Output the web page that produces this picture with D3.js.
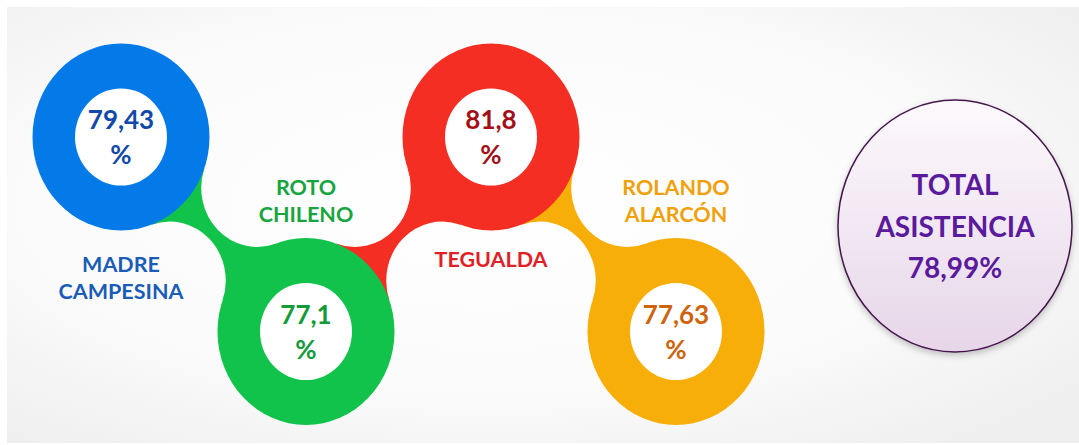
<!DOCTYPE html>
<html>
<head>
<meta charset="utf-8">
<script src="https://cdn.jsdelivr.net/npm/d3@7"></script>
<style>
  body { margin: 0; background: #fff; }
  svg { display: block; }
  text { font-family: Lato, "Open Sans", sans-serif; font-weight: 700; }
</style>
</head>
<body>
<div id="holder"></div>
<script>
  // Data
  const schools = ['MADRE CAMPESINA', 'ROTO CHILENO', 'TEGUALDA', 'ROLANDO ALARCÓN'];
  const labelLines = [['MADRE', 'CAMPESINA'], ['ROTO', 'CHILENO'], ['TEGUALDA'], ['ROLANDO', 'ALARCÓN']];
  const attendance = [79.43, 77.1, 81.8, 77.63];
  const rows = ['top', 'bottom', 'top', 'bottom'];
  const totalLines = ['TOTAL', 'ASISTENCIA'];
  const totalAttendance = 78.99;

  const ringColors = ['#0479E8', '#12C34B', '#F42E23', '#F7AE08'];
  const valueColors = ['#1249A8', '#139B3A', '#A30F18', '#CF630B'];
  const labelColors = ['#1A5CB8', '#17A53F', '#E11F27', '#F0A10A'];

  // Variables
  const w = 1079;
  const h = 445;
  const sy = 1.056; // rings are slightly taller than wide
  const rOuter = 88.5;
  const rInner = 46;
  const rCut = 56;

  const fmt = (v) => String(v).replace('.', ',');

  const xScale = d3.scalePoint().domain(schools).range([121, 676]);
  const yScale = d3.scalePoint().domain(['top', 'bottom']).range([137, 331.5]);

  const nodes = schools.map((s, i) => ({
    name: s,
    x: xScale(s),
    y: yScale(rows[i]),
    gy: yScale(rows[i]) / sy,
    i: i,
  }));

  const svg = d3.select('#holder').append('svg').attr('width', w).attr('height', h);
  const defs = svg.append('defs');

  const bg = defs.append('radialGradient').attr('id', 'bg').attr('cx', '45%').attr('cy', '45%').attr('r', '70%');
  bg.append('stop').attr('offset', '0%').attr('stop-color', '#ffffff');
  bg.append('stop').attr('offset', '60%').attr('stop-color', '#fbfbfb');
  bg.append('stop').attr('offset', '100%').attr('stop-color', '#efefef');

  const tg = defs.append('linearGradient').attr('id', 'tot').attr('x1', 0).attr('y1', 0).attr('x2', 0).attr('y2', 1);
  tg.append('stop').attr('offset', '0%').attr('stop-color', '#fcf9fc');
  tg.append('stop').attr('offset', '100%').attr('stop-color', '#e7d6e9');

  const sh = defs.append('filter').attr('id', 'shadow').attr('x', '-20%').attr('y', '-20%').attr('width', '140%').attr('height', '140%');
  sh.append('feDropShadow').attr('dx', 0).attr('dy', 3).attr('stdDeviation', 3)
    .attr('flood-color', '#000').attr('flood-opacity', 0.22);

  svg.append('rect').attr('x', 7).attr('y', 7).attr('width', w - 7).attr('height', h - 9).attr('fill', 'url(#bg)');

  // Shapes, drawn in a vertically stretched group
  const g = svg.append('g').attr('transform', 'scale(1,' + sy + ')');

  function connector(a, b) {
    const ax = a.x, ay = a.gy, bx = b.x, by = b.gy;
    const dx = bx - ax, dy = by - ay, d = Math.hypot(dx, dy);
    const mx = (ax + bx) / 2, my = (ay + by) / 2;
    const hh = Math.sqrt((rOuter + rCut) ** 2 - (d / 2) ** 2);
    const ux = -dy / d, uy = dx / d;
    const cuts = [
      [mx + ux * hh, my + uy * hh],
      [mx - ux * hh, my - uy * hh],
    ];
    const k = rOuter / (rOuter + rCut);
    const tp = (px, py, c) => [px + (c[0] - px) * k, py + (c[1] - py) * k];
    const tA1 = tp(ax, ay, cuts[0]), tB1 = tp(bx, by, cuts[0]);
    const tB2 = tp(bx, by, cuts[1]), tA2 = tp(ax, ay, cuts[1]);

    const p = d3.path();
    const arcTo = (c, from, to) => {
      const t1 = Math.atan2(from[1] - c[1], from[0] - c[0]);
      const t2 = Math.atan2(to[1] - c[1], to[0] - c[0]);
      let dl = t2 - t1;
      while (dl > Math.PI) dl -= 2 * Math.PI;
      while (dl < -Math.PI) dl += 2 * Math.PI;
      p.arc(c[0], c[1], rCut, t1, t1 + dl, dl < 0);
    };
    p.moveTo(tA1[0], tA1[1]);
    arcTo(cuts[0], tA1, tB1);
    p.lineTo(tB2[0], tB2[1]);
    arcTo(cuts[1], tB2, tA2);
    p.closePath();
    return p.toString();
  }

  // Connectors take the colour of the next ring
  g.selectAll('path.link')
    .data(nodes.slice(1))
    .enter()
    .append('path')
    .attr('class', 'link')
    .attr('d', (d) => connector(nodes[d.i - 1], d))
    .attr('fill', (d) => ringColors[d.i]);

  g.selectAll('circle.outer')
    .data(nodes)
    .enter()
    .append('circle')
    .attr('class', 'outer')
    .attr('cx', (d) => d.x)
    .attr('cy', (d) => d.gy)
    .attr('r', rOuter)
    .attr('fill', (d) => ringColors[d.i]);

  g.selectAll('circle.inner')
    .data(nodes)
    .enter()
    .append('circle')
    .attr('class', 'inner')
    .attr('cx', (d) => d.x)
    .attr('cy', (d) => d.gy)
    .attr('r', rInner)
    .attr('fill', '#ffffff');

  // Values inside the rings
  const vals = svg.selectAll('g.val').data(nodes).enter().append('g').attr('class', 'val');
  vals.append('text')
    .attr('x', (d) => d.x)
    .attr('y', (d) => d.y - 8)
    .attr('text-anchor', 'middle')
    .attr('font-size', 26)
    .attr('fill', (d) => valueColors[d.i])
    .text((d) => fmt(attendance[d.i]));
  vals.append('text')
    .attr('x', (d) => d.x)
    .attr('y', (d) => d.y + 27)
    .attr('text-anchor', 'middle')
    .attr('font-size', 26)
    .attr('fill', (d) => valueColors[d.i])
    .text('%');

  // School names
  nodes.forEach((d) => {
    const lines = labelLines[d.i];
    const lh = 27;
    const y0 = rows[d.i] === 'top'
      ? d.y + 130 + 5 * (lines.length - 1)
      : d.y - 110 - lh * (lines.length - 1);
    svg.append('text')
      .attr('text-anchor', 'middle')
      .attr('font-size', 21.5)
      .attr('fill', labelColors[d.i])
      .selectAll('tspan')
      .data(lines)
      .enter()
      .append('tspan')
      .attr('x', d.x)
      .attr('y', (l, j) => y0 + j * lh)
      .text((l) => l);
  });

  // Total
  const tx = 955, ty = 226;
  svg.append('ellipse')
    .attr('cx', tx)
    .attr('cy', ty)
    .attr('rx', 117)
    .attr('ry', 126)
    .attr('fill', 'url(#tot)')
    .attr('stroke', '#45174c')
    .attr('stroke-width', 1.5)
    .attr('filter', 'url(#shadow)');

  svg.append('text')
    .attr('text-anchor', 'middle')
    .attr('font-size', 28)
    .attr('fill', '#5A1A9C')
    .selectAll('tspan')
    .data(totalLines.concat([fmt(totalAttendance) + '%']))
    .enter()
    .append('tspan')
    .attr('x', tx)
    .attr('y', (l, j) => 195 + j * 41.5)
    .text((l) => l);
</script>
</body>
</html>
